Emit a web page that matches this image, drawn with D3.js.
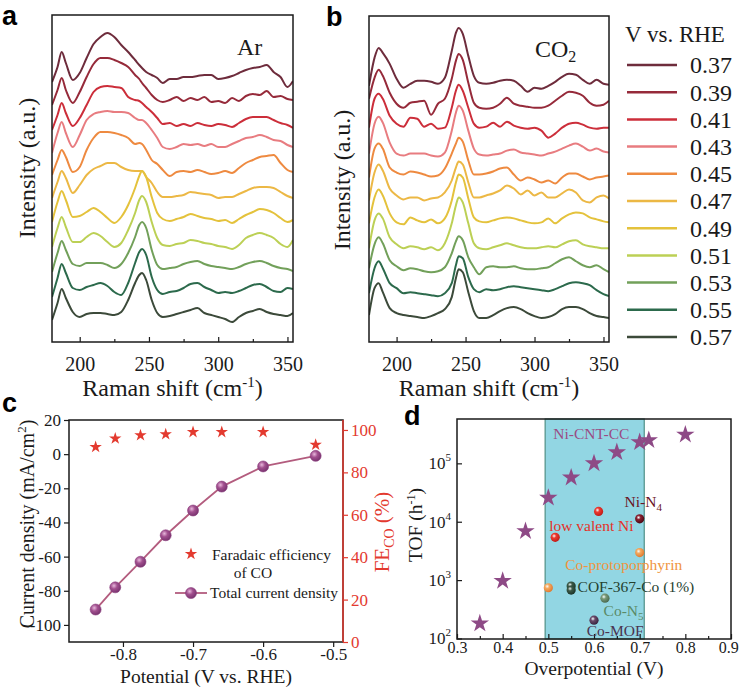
<!DOCTYPE html>
<html><head><meta charset="utf-8">
<script src="https://cdn.jsdelivr.net/npm/d3@7"></script>
<style>body{margin:0;background:#fff}</style>
</head><body>
<svg id="fig" width="740" height="689" xmlns="http://www.w3.org/2000/svg"></svg>
<script>
// ---------------- DATA ----------------
const ramanShift = [180,184,187,190,195,200,205,210,215,220,225,230,235,240,243,245,248,252,256,260,265,270,275,280,285,290,295,300,305,310,315,320,325,330,335,340,345,350,354];
const shiftTicks = [200,250,300,350];
const potentials = ["0.37","0.39","0.41","0.43","0.45","0.47","0.49","0.51","0.53","0.55","0.57"];
const potentialColors = ["#6e2c3c","#962a3a","#cc2e3a","#e87c80","#ee8a40","#ecb845","#e4c23c","#bcd055","#72a05a","#2c6a4c","#3c4a3a"];

// Panel a (Ar) – intensity (a.u.) at each Raman shift, one array per potential
const ar037 = [260,275,290,279,262,269,284,298,305,309,305,297,290,282,277,274,270,267,264,259,263,263,265,265,266,267,267,263,264,266,269,272,274,275,277,270,265,255,261];
const ar039 = [237,252,264,252,239,250,265,278,284,284,282,279,275,267,263,259,254,247,242,240,242,245,241,244,242,245,240,241,239,244,241,246,248,247,251,245,246,243,242];
const ar041 = [212,227,239,229,216,224,237,250,255,256,255,254,245,242,241,239,235,230,224,218,219,216,218,216,219,217,216,218,217,215,219,223,225,225,225,222,219,217,214];
const ar043 = [189,209,220,209,195,207,222,228,230,231,230,230,229,224,222,222,219,212,204,195,193,195,198,197,198,196,198,195,195,198,201,204,205,207,205,202,201,197,195];
const ar045 = [167,182,192,185,170,175,192,204,210,210,209,207,204,198,199,198,192,182,178,172,166,170,171,170,172,170,168,169,171,169,174,179,182,185,186,187,179,172,170];
const ar047 = [144,160,171,164,149,157,167,173,176,179,179,175,172,171,171,171,165,159,150,145,145,146,147,150,149,148,147,144,145,145,148,151,154,155,155,154,150,146,144];
const ar049 = [120,140,151,142,125,126,130,134,130,124,119,125,137,154,166,171,165,145,129,123,121,123,125,128,126,124,123,121,122,119,123,127,130,133,132,129,124,120,122];
const ar051 = [95,114,125,115,100,100,105,109,106,100,95,99,112,129,142,146,140,120,104,97,96,98,99,102,101,99,98,96,95,93,97,104,107,109,107,104,98,95,102];
const ar053 = [70,89,101,92,78,76,79,79,79,77,74,78,89,105,117,120,114,92,77,73,74,75,78,80,81,78,76,75,74,73,75,78,80,81,79,76,74,73,71];
const ar055 = [45,64,78,69,54,52,55,57,59,56,50,47,59,79,90,93,87,65,52,48,50,51,54,58,59,55,52,49,50,49,51,54,57,58,55,51,50,54,53];
const ar057 = [22,39,53,44,30,25,28,29,29,28,27,30,42,59,67,69,62,42,29,25,26,28,30,32,34,29,27,25,23,20,25,29,31,33,30,28,27,26,29];

// Panel b (CO2)
const co037 = [257,285,295,290,279,264,255,259,262,262,261,259,265,292,310,315,309,287,267,260,259,260,262,263,262,257,251,255,254,257,261,266,269,268,263,259,263,259,258];
const co039 = [244,265,273,267,250,239,235,240,241,242,228,239,244,264,282,289,283,260,240,235,234,235,239,245,239,237,236,235,235,237,242,247,251,250,247,240,237,238,242];
const co041 = [215,244,249,244,227,219,216,225,224,216,219,214,215,235,252,258,252,235,219,215,216,220,216,221,217,215,214,215,212,205,209,215,219,220,218,215,214,215,215];
const co043 = [189,219,226,220,200,189,187,189,189,189,187,186,190,212,230,237,232,212,194,188,187,188,189,192,193,190,189,188,187,189,191,194,197,199,196,192,194,191,190];
const co045 = [165,194,199,194,175,170,168,171,170,168,166,167,174,189,199,205,201,182,168,168,169,171,174,175,168,162,165,163,160,162,159,165,169,169,166,163,165,166,167];
const co047 = [142,170,178,172,154,147,143,145,145,142,144,145,150,162,175,181,178,160,145,145,147,149,152,157,154,148,152,147,150,145,145,149,153,150,142,140,145,147,144];
const co049 = [119,145,153,147,129,120,118,125,122,120,123,119,124,142,160,168,165,144,125,121,120,122,124,125,124,122,120,119,120,124,119,124,128,130,129,125,123,121,120];
const co051 = [94,122,129,124,105,98,94,96,95,93,95,92,99,119,137,145,140,119,99,94,93,95,97,99,97,95,94,94,95,96,95,98,101,102,98,96,95,94,94];
const co053 = [74,98,105,99,82,76,72,74,73,71,70,71,75,89,101,106,102,85,75,68,75,76,75,75,76,74,73,73,74,75,79,83,85,81,77,75,77,73,70];
const co055 = [49,74,81,74,59,54,49,50,49,48,47,46,49,59,77,86,84,65,53,50,53,52,53,55,56,55,54,53,52,51,53,56,59,60,59,57,52,48,46];
const co057 = [27,54,59,50,34,29,27,26,25,24,26,29,33,45,64,73,70,50,31,24,24,27,31,34,35,33,29,26,24,25,28,33,35,35,33,29,26,25,24];

// Panel c
const potentialC = [-0.839,-0.811,-0.775,-0.739,-0.700,-0.659,-0.600,-0.525];
const currentDensity = [-91,-78,-63,-47.5,-33,-19,-7.2,-1];
const feCO = [92,96,97.5,98,99,99,99,93];
const currentTicks = [-100,-80,-60,-40,-20,0,20];
const feTicks = [0,20,40,60,80,100];
const potentialTicks = [-0.8,-0.7,-0.6,-0.5];

// Panel d
const nicntX = [0.35,0.40,0.45,0.50,0.55,0.60,0.65,0.70,0.72,0.80];
const nicntTOF = [181,970,6900,25700,57000,100000,155000,230000,250000,310000];
const refName = ["low valent Ni","low valent Ni","Ni-N4","Co-protoporphyrin","Co-protoporphyrin","COF-367-Co (1%)","COF-367-Co (1%)","Co-N5","Co-MOF"];
const refX = [0.515,0.61,0.70,0.70,0.50,0.55,0.55,0.624,0.60];
const refTOF = [5400,15000,11200,2960,740,790,675,490,206];
const overTicks = [0.3,0.4,0.5,0.6,0.7,0.8,0.9];
const tofTicks = [1e2,1e3,1e4,1e5];
const windowRange = [0.493,0.71];

// ---------------- DRAW ----------------
const svg = d3.select("#fig");
const serif = '"Liberation Serif","Times New Roman",serif';
const sans = '"Liberation Sans",Arial,sans-serif';
const ink = "#1a1a1a";

function letter(t,x,y){
  svg.append("text").attr("x",x).attr("y",y).attr("font-family",sans).attr("font-weight","bold")
    .attr("font-size",27).attr("fill","#000").text(t);
}
function styleAxis(g,size,color){
  g.attr("font-family",serif).attr("font-size",size);
  g.selectAll("text").attr("fill",color||ink);
  g.selectAll("line").attr("stroke",color||ink).attr("stroke-width",1.2);
  g.select(".domain").remove();
}

const shiftDomain = [180,354];
const intensityDomain = [0,327];

function spectra(id,left,right,top,bottom,series,titleCy,titleX){
  const x = d3.scaleLinear().domain(shiftDomain).range([left,right]);
  const y = d3.scaleLinear().domain(intensityDomain).range([bottom,top]);
  svg.append("clipPath").attr("id",id).append("rect")
    .attr("x",left).attr("y",top).attr("width",right-left).attr("height",bottom-top);
  const line = d3.line().x((d,i)=>x(ramanShift[i])).y(d=>y(d)).curve(d3.curveMonotoneX);
  svg.append("g").attr("clip-path",`url(#${id})`).selectAll("path").data(series).join("path")
    .attr("d",d=>line(d)).attr("fill","none").attr("stroke",(d,i)=>potentialColors[i])
    .attr("stroke-width",2).attr("stroke-linejoin","round");
  svg.append("rect").attr("x",left).attr("y",top).attr("width",right-left).attr("height",bottom-top)
    .attr("fill","none").attr("stroke",ink).attr("stroke-width",1.5);
  const ax = svg.append("g").attr("transform",`translate(0,${bottom})`)
    .call(d3.axisBottom(x).tickValues(shiftTicks).tickSize(-5).tickPadding(15).tickFormat(d3.format("d")));
  styleAxis(ax,20);
  const axm = svg.append("g").attr("transform",`translate(0,${bottom})`)
    .call(d3.axisBottom(x).tickValues([225,275,325]).tickSize(-3).tickFormat(""));
  styleAxis(axm,10);
  const t = svg.append("text").attr("x",(left+right)/2).attr("y",bottom+54).attr("text-anchor","middle")
    .attr("font-family",serif).attr("font-size",24).attr("fill",ink);
  t.append("tspan").text("Raman shift (cm");
  t.append("tspan").attr("dy",-9).attr("font-size",15).text("-1");
  t.append("tspan").attr("dy",9).text(")");
  svg.append("text").attr("transform",`translate(${titleX},${titleCy}) rotate(-90)`).attr("text-anchor","middle")
    .attr("font-family",serif).attr("font-size",24).attr("fill",ink).text("Intensity (a.u.)");
}

spectra("ca",52,293,15,342,[ar037,ar039,ar041,ar043,ar045,ar047,ar049,ar051,ar053,ar055,ar057],168,35);
spectra("cb",369,609,16,342,[co037,co039,co041,co043,co045,co047,co049,co051,co053,co055,co057],180,350);

svg.append("text").attr("x",237).attr("y",55).attr("font-family",serif).attr("font-size",24).attr("fill",ink).text("Ar");
const co2 = svg.append("text").attr("x",535).attr("y",57).attr("font-family",serif).attr("font-size",24).attr("fill",ink);
co2.append("tspan").text("CO");
co2.append("tspan").attr("dy",5).attr("font-size",16).text("2");

// legend
svg.append("text").attr("x",625).attr("y",42).attr("font-family",serif).attr("font-size",23).attr("fill",ink).text("V vs. RHE");
const leg = svg.append("g").selectAll("g").data(potentials).join("g")
  .attr("transform",(d,i)=>`translate(0,${65+i*27.2})`);
leg.append("line").attr("x1",627).attr("x2",677).attr("stroke",(d,i)=>potentialColors[i]).attr("stroke-width",2.5);
leg.append("text").attr("x",690).attr("dy","0.35em").attr("font-family",serif).attr("font-size",24).attr("fill",ink).text(d=>d);

letter("a",2,25);
letter("b",326,26);

// ---------------- Panel c ----------------
(function(){
  const L=69,R=343,T=420,B=642;
  const red="#e33a2f";
  const x = d3.scaleLinear().domain([-0.877,-0.486]).range([L,R]);
  const yL = d3.scaleLinear().domain([-110,20]).range([B,T]);
  const yR = d3.scaleLinear().domain([0,104.7]).range([B,T]);
  const defs = svg.append("defs");
  const gr = defs.append("radialGradient").attr("id","ballc").attr("cx","38%").attr("cy","35%").attr("r","65%");
  gr.append("stop").attr("offset","0%").attr("stop-color","#e8b8dc");
  gr.append("stop").attr("offset","45%").attr("stop-color","#a2508f");
  gr.append("stop").attr("offset","100%").attr("stop-color","#7a3470");

  svg.append("rect").attr("x",L).attr("y",T).attr("width",R-L).attr("height",B-T).attr("fill","none").attr("stroke",ink).attr("stroke-width",1.5);
  svg.append("line").attr("x1",R).attr("x2",R).attr("y1",T).attr("y2",B).attr("stroke",red).attr("stroke-width",1.5);

  const axL = svg.append("g").attr("transform",`translate(${L},0)`)
    .call(d3.axisLeft(yL).tickValues(currentTicks).tickSize(5).tickPadding(3).tickFormat(d=>String(d)));
  styleAxis(axL,17);
  const axB = svg.append("g").attr("transform",`translate(0,${B})`)
    .call(d3.axisBottom(x).tickValues(potentialTicks).tickSize(5).tickPadding(1).tickFormat(d=>d.toFixed(1)));
  styleAxis(axB,17);
  const axR = svg.append("g").attr("transform",`translate(${R},0)`)
    .call(d3.axisRight(yR).tickValues(feTicks).tickSize(5).tickPadding(3).tickFormat(d=>String(d)));
  styleAxis(axR,17,red);

  const line = d3.line().x((d,i)=>x(potentialC[i])).y(d=>yL(d));
  svg.append("path").attr("d",line(currentDensity)).attr("fill","none").attr("stroke","#b35c7e").attr("stroke-width",1.8);
  svg.append("g").selectAll("circle").data(currentDensity).join("circle")
    .attr("cx",(d,i)=>x(potentialC[i])).attr("cy",d=>yL(d)).attr("r",5.5)
    .attr("fill","url(#ballc)").attr("stroke","#8a3c7c").attr("stroke-width",0.6);
  const star = d3.symbol().type(d3.symbolStar).size(48);
  svg.append("g").selectAll("path").data(feCO).join("path")
    .attr("transform",(d,i)=>`translate(${x(potentialC[i])},${yR(d)})`).attr("d",star).attr("fill",red);

  // legend
  svg.append("path").attr("transform","translate(191,554)").attr("d",star).attr("fill",red);
  const lt = {"font-family":serif,"font-size":15.5,"fill":ink};
  const t1 = svg.append("text").attr("x",212).attr("y",560).text("Faradaic efficiency");
  const t2 = svg.append("text").attr("x",253).attr("y",578).attr("text-anchor","middle").text("of CO");
  const t3 = svg.append("text").attr("x",210).attr("y",598).text("Total current density");
  [t1,t2,t3].forEach(t=>{for(const k in lt) t.attr(k,lt[k]);});
  svg.append("line").attr("x1",175).attr("x2",207).attr("y1",593).attr("y2",593).attr("stroke","#b35c7e").attr("stroke-width",1.8);
  svg.append("circle").attr("cx",191).attr("cy",593).attr("r",5.5).attr("fill","url(#ballc)").attr("stroke","#8a3c7c").attr("stroke-width",0.6);

  svg.append("text").attr("x",(L+R)/2).attr("y",683).attr("text-anchor","middle")
    .attr("font-family",serif).attr("font-size",19.5).attr("fill",ink).text("Potential (V vs. RHE)");
  const yt = svg.append("text").attr("transform",`translate(34,524) rotate(-90)`).attr("text-anchor","middle")
    .attr("font-family",serif).attr("font-size",20).attr("fill",ink);
  yt.append("tspan").text("Current density (mA/cm");
  yt.append("tspan").attr("dy",-8).attr("font-size",13).text("2");
  yt.append("tspan").attr("dy",8).text(")");
  const fe = svg.append("text").attr("transform",`translate(389,532) rotate(-90)`).attr("text-anchor","middle")
    .attr("font-family",serif).attr("font-size",21).attr("fill",red);
  fe.append("tspan").text("FE");
  fe.append("tspan").attr("dy",5).attr("font-size",14).text("CO");
  fe.append("tspan").attr("dy",-5).text(" (%)");
})();
letter("c",2,412);

// ---------------- Panel d ----------------
(function(){
  const L=457,R=731,T=419,B=639;
  const x = d3.scaleLinear().domain([0.3,0.9]).range([L,R]);
  const y = d3.scaleLog().domain([98,575000]).range([B,T]);
  svg.append("rect").attr("x",x(windowRange[0])).attr("y",T).attr("width",x(windowRange[1])-x(windowRange[0])).attr("height",B-T)
    .attr("fill","#92d6e3").attr("stroke","#4f8f86").attr("stroke-width",1.2);
  svg.append("rect").attr("x",L).attr("y",T).attr("width",R-L).attr("height",B-T).attr("fill","none").attr("stroke",ink).attr("stroke-width",1.5);

  const axB = svg.append("g").attr("transform",`translate(0,${B})`)
    .call(d3.axisBottom(x).tickValues(overTicks).tickSize(-5).tickPadding(3).tickFormat(d=>d.toFixed(1)));
  styleAxis(axB,16);
  axB.selectAll(".tick").filter(d=>d===0.9).select("text").attr("text-anchor","end").attr("dx","0.45em");
  const axBm = svg.append("g").attr("transform",`translate(0,${B})`)
    .call(d3.axisBottom(x).tickValues([0.35,0.45,0.55,0.65,0.75,0.85]).tickSize(-3).tickFormat(""));
  styleAxis(axBm,10);
  const axL = svg.append("g").attr("transform",`translate(${L},0)`)
    .call(d3.axisLeft(y).tickValues(tofTicks).tickSize(-5).tickPadding(7).tickFormat(""));
  styleAxis(axL,17);
  const yl = svg.append("g").selectAll("text").data(tofTicks).join("text")
    .attr("x",L-6).attr("y",d=>y(d)+6).attr("text-anchor","end")
    .attr("font-family",serif).attr("font-size",17).attr("fill",ink);
  yl.append("tspan").text("10");
  yl.append("tspan").attr("dy",-8).attr("font-size",11).text(d=>Math.round(Math.log10(d)));

  const defs = svg.append("defs");
  const ball = (id,c0,c1)=>{const g=defs.append("radialGradient").attr("id",id).attr("cx","38%").attr("cy","35%").attr("r","65%");
    g.append("stop").attr("offset","0%").attr("stop-color","#ffffff").attr("stop-opacity",0.9);
    g.append("stop").attr("offset","35%").attr("stop-color",c0);
    g.append("stop").attr("offset","100%").attr("stop-color",c1);};
  const refColors = {"low valent Ni":["#ee3a30","#c01c18"],"Ni-N4":["#8a2030","#4a0a14"],"Co-protoporphyrin":["#f4aa60","#e07a30"],
    "COF-367-Co (1%)":["#3c5a48","#1c3428"],"Co-N5":["#7a9a78","#4a6a50"],"Co-MOF":["#6a4a6a","#3a2440"]};
  Object.keys(refColors).forEach((k,i)=>ball("bd"+i,refColors[k][0],refColors[k][1]));
  const keyIdx = Object.keys(refColors);

  const star = d3.symbol().type(d3.symbolStar).size(105);
  svg.append("g").selectAll("path").data(nicntTOF).join("path")
    .attr("transform",(d,i)=>`translate(${x(nicntX[i])},${y(d)})`).attr("d",star).attr("fill","#8e4a86");

  svg.append("g").selectAll("circle").data(refTOF).join("circle")
    .attr("cx",(d,i)=>x(refX[i])).attr("cy",d=>y(d)).attr("r",4.6)
    .attr("fill",(d,i)=>`url(#bd${keyIdx.indexOf(refName[i])})`);

  // labels (anchored in data coordinates)
  const labs = [
    {t:"Ni-CNT-CC",x:0.511,v:3.3e5,c:"#9a4c84"},
    {t:"Ni-N",s:"4",x:0.667,v:2.2e4,c:"#6a1424"},
    {t:"low valent Ni",x:0.502,v:8500,c:"#e43228"},
    {t:"Co-protoporphyrin",x:0.537,v:1870,c:"#f0953e"},
    {t:"COF-367-Co (1%)",x:0.564,v:790,c:"#24402e"},
    {t:"Co-N",s:"5",x:0.621,v:305,c:"#5a8a66"},
    {t:"Co-MOF",x:0.584,v:139,c:"#4a3450"}
  ];
  labs.forEach(l=>{
    const t = svg.append("text").attr("x",x(l.x)).attr("y",y(l.v)+5.5)
      .attr("font-family",serif).attr("font-size",15.5).attr("fill",l.c);
    t.append("tspan").text(l.t);
    if(l.s) t.append("tspan").attr("dy",4).attr("font-size",11).text(l.s);
  });

  svg.append("text").attr("x",(L+R)/2).attr("y",675).attr("text-anchor","middle")
    .attr("font-family",serif).attr("font-size",19.5).attr("fill",ink).text("Overpotential (V)");
  const yt = svg.append("text").attr("transform",`translate(422,525) rotate(-90)`).attr("text-anchor","middle")
    .attr("font-family",serif).attr("font-size",19.5).attr("fill",ink);
  yt.append("tspan").text("TOF (h");
  yt.append("tspan").attr("dy",-7).attr("font-size",12).text("-1");
  yt.append("tspan").attr("dy",7).text(")");
})();
letter("d",404,425);
</script>
</body></html>
